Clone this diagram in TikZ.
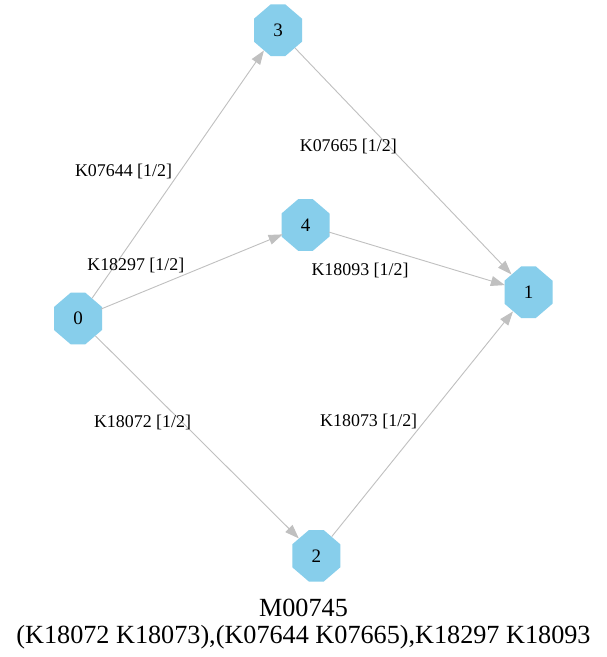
\documentclass[tikz,border=0pt]{standalone}
\usepackage{fontspec}
\setmainfont{Liberation Serif}
\usetikzlibrary{arrows.meta}
\definecolor{nodeblue}{HTML}{87CEEB}
\definecolor{edgegray}{HTML}{C0C0C0}
\begin{document}
\begin{tikzpicture}[x=1pt,y=-1pt,
  oct/.style={circle, minimum size=49pt, inner sep=0pt, font=\fontsize{19}{21}\selectfont},
  octfill/.style={fill=nodeblue},
  edge/.style={draw=edgegray, line width=0.9pt, -{Triangle[length=14pt,width=10pt,fill=edgegray]}},
  elabel/.style={anchor=base, inner sep=0pt, font=\fontsize{17.9}{20}\selectfont},
  caption/.style={anchor=base, inner sep=0pt, font=\fontsize{26.2}{28}\selectfont}]
\useasboundingbox (0,0) rectangle (607,657);
\fill[white] (0,0) rectangle (607,657);
\foreach \n/\x/\y in {0/78/318.5, 1/528.5/292.2, 2/316.3/555.8, 3/278/30.2, 4/305.5/225} {
  \fill[octfill] (\x,\y) +(-7.35,-25.8) -- +(7.35,-25.8) -- +(24,-11.5) -- +(24,11.5)
    -- +(7.35,25.8) -- +(-7.35,25.8) -- +(-24,11.5) -- +(-24,-11.5) -- cycle;
  \node[oct] (n\n) at (\x,\y) {\n};
}
\draw[edge] (n0) -- (n3);
\draw[edge] (n0) -- (n4);
\draw[edge] (n0) -- (n2);
\draw[edge] (n3) -- (n1);
\draw[edge] (n4) -- (n1);
\draw[edge] (n2) -- (n1);
\node[elabel] (l03) at (123.5,176.7) {K07644 [1/2]};
\node[elabel] (l04) at (135.8,270.7) {K18297 [1/2]};
\node[elabel] (l31) at (348.3,151.5) {K07665 [1/2]};
\node[elabel] (l41) at (360,275) {K18093 [1/2]};
\node[elabel] (l02) at (142.5,427.7) {K18072 [1/2]};
\node[elabel] (l21) at (368.7,426.7) {K18073 [1/2]};
\node[caption] (t1) at (303.5,616.7) {M00745};
\node[caption] (t2) at (303.5,643) {(K18072 K18073),(K07644 K07665),K18297 K18093};
\end{tikzpicture}
\end{document}
